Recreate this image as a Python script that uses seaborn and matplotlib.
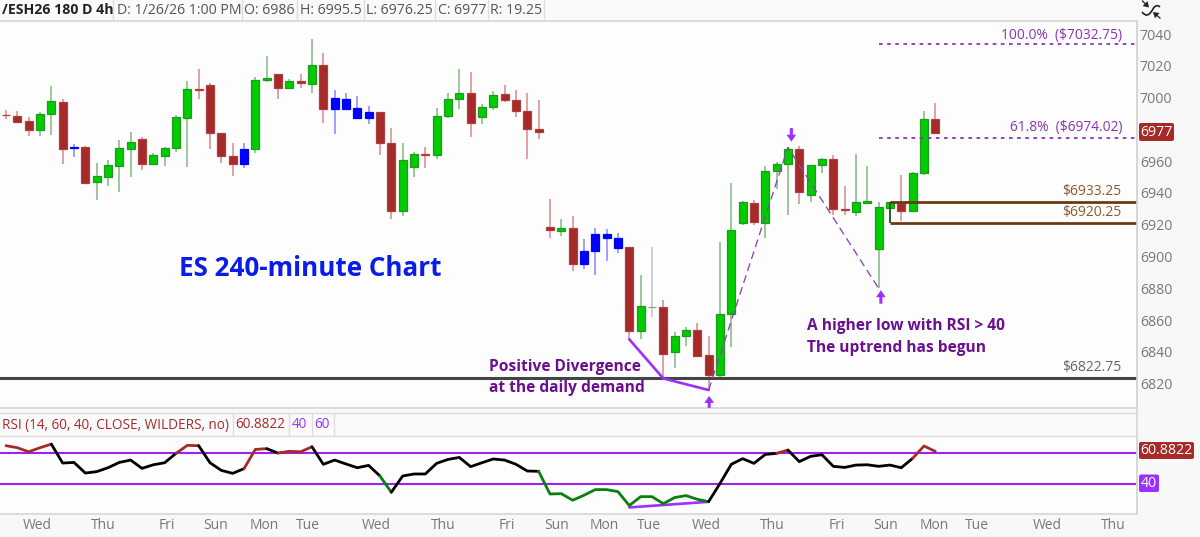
import matplotlib
matplotlib.use("Agg")
import matplotlib.pyplot as plt
from matplotlib.patches import Rectangle, PathPatch, FancyBboxPatch
from matplotlib.path import Path
from matplotlib.transforms import ScaledTranslation
import numpy as np
import pandas as pd
import seaborn as sns

# candles
opens = [6988.5, 6987.8, 6984.3, 6978.8, 6989.1, 6996.6, 6967.9, 6968.1, 6946.1, 6949.4,
         6956.2, 6967.1, 6972.9, 6957.6, 6962.7, 6967.7, 6986.6, 7004.4, 7006.9, 6977.1,
         6962.4, 6957.6, 6966.9, 7010.5, 7013.9, 7005.5, 7009.5, 7008.0, 7019.7, 6992.0,
         6992.2, 6986.2, 6986.2, 6989.9, 6970.6, 6928.0, 6955.7, 6963.9, 6963.1, 6987.9,
         6998.1, 7001.9, 6986.8, 6993.1, 7001.5, 6997.7, 6990.8, 6979.2, 6918.0, 6915.5,
         6917.0, 6894.7, 6902.9, 6910.6, 6904.8, 6905.0, 6852.5, 6867.6, 6867.4, 6839.3,
         6849.2, 6852.9, 6837.2, 6824.8, 6862.8, 6920.1, 6933.1, 6920.5, 6953.2, 6957.4,
         6966.9, 6937.9, 6956.6, 6960.4, 6929.3, 6927.4, 6933.1, 6904.1, 6929.9, 6933.1,
         6928.1, 6951.5, 6986.0]
closes = [6988.0, 6984.1, 6978.8, 6989.1, 6997.1, 6966.9, 6967.7, 6945.7, 6949.7, 6956.6,
          6967.3, 6971.0, 6957.6, 6962.9, 6967.5, 6986.8, 7004.4, 7003.8, 6977.1, 6962.2,
          6957.6, 6966.9, 7010.1, 7011.3, 7005.5, 7009.5, 7008.2, 7019.7, 6992.0, 6999.2,
          6998.3, 6992.4, 6989.9, 6970.4, 6928.0, 6960.0, 6963.9, 6963.1, 6987.9, 6998.1,
          7001.9, 6983.4, 6993.1, 7001.1, 6997.7, 6990.8, 6979.2, 6977.6, 6915.9, 6917.0,
          6894.7, 6902.5, 6913.2, 6913.6, 6910.6, 6852.5, 6867.8, 6867.2, 6837.6, 6849.2,
          6852.9, 6836.8, 6824.8, 6862.8, 6915.7, 6933.3, 6920.9, 6952.8, 6957.4, 6966.7,
          6940.0, 6956.6, 6960.4, 6929.3, 6928.3, 6933.3, 6933.9, 6930.2, 6933.3, 6928.1,
          6951.5, 6985.7, 6977.0]
highs = [6991.4, 6990.8, 6987.2, 6990.1, 7006.5, 6998.3, 6969.8, 6968.7, 6957.8, 6960.0,
         6972.5, 6977.6, 6974.2, 6964.3, 6968.3, 6988.0, 7009.9, 7017.2, 7008.2, 6977.1,
         6970.4, 6970.4, 7012.2, 7025.2, 7013.9, 7010.7, 7014.1, 7035.9, 7027.1, 7004.0,
         7002.3, 7000.0, 6993.9, 6989.9, 6979.9, 6970.4, 6965.2, 6967.9, 6992.5, 7001.9,
         7017.2, 7015.1, 6995.0, 7003.6, 7007.1, 7004.0, 7001.9, 6997.7, 6935.2, 6922.6,
         6924.7, 6910.0, 6916.9, 6916.5, 6913.8, 6905.4, 6887.4, 6905.2, 6871.8, 6851.9,
         6855.0, 6857.6, 6849.4, 6908.5, 6945.3, 6934.3, 6934.8, 6956.2, 6958.7, 6967.9,
         6969.0, 6956.6, 6961.0, 6963.1, 6943.8, 6963.9, 6956.2, 6933.5, 6933.7, 6950.5,
         6952.4, 6991.0, 6995.5]
lows = [6985.9, 6983.0, 6975.2, 6975.0, 6975.9, 6957.6, 6962.0, 6945.7, 6935.0, 6943.8,
        6939.8, 6949.0, 6953.8, 6956.8, 6955.9, 6965.0, 6955.7, 6998.1, 6967.1, 6958.0,
        6949.9, 6955.1, 6964.1, 7009.2, 6998.5, 7004.4, 7005.5, 7002.1, 6983.2, 6976.5,
        6991.8, 6985.5, 6982.8, 6963.3, 6923.0, 6924.7, 6949.4, 6955.1, 6960.8, 6986.6,
        6992.3, 6974.6, 6982.4, 6991.4, 6996.2, 6986.8, 6960.4, 6973.4, 6911.1, 6912.3,
        6890.3, 6891.3, 6887.6, 6896.2, 6901.2, 6847.1, 6847.5, 6861.3, 6822.5, 6829.2,
        6842.9, 6836.8, 6815.2, 6821.5, 6842.5, 6919.2, 6919.2, 6911.1, 6941.5, 6925.3,
        6932.5, 6933.3, 6951.5, 6925.5, 6925.5, 6924.7, 6932.0, 6879.2, 6920.1, 6921.8,
        6927.2, 6950.7, 6976.25]
blue_bars = [6, 21, 29, 30, 31, 32, 51, 52, 53, 54]
gray_bars = [57]

rsi = [64.5, 63.2, 60.6, 63.2, 65.5, 53.4, 53.8, 47.0, 47.9, 50.4,
       53.8, 55.3, 50.0, 52.3, 53.6, 59.6, 64.7, 64.5, 53.6, 48.7,
       46.8, 49.8, 62.1, 62.6, 59.8, 60.9, 60.6, 63.8, 52.6, 55.3,
       52.8, 50.4, 51.9, 45.1, 34.7, 45.1, 46.4, 46.4, 53.2, 55.7,
       57.0, 51.1, 53.6, 56.0, 55.3, 52.6, 48.3, 48.1, 33.6, 33.8,
       29.6, 32.8, 36.4, 36.4, 35.1, 26.2, 31.9, 31.9, 27.4, 31.3,
       32.6, 30.2, 28.7, 40.3, 52.6, 56.2, 53.2, 58.9, 59.6, 61.7,
       54.3, 57.7, 58.7, 51.3, 50.6, 52.1, 52.3, 51.3, 52.1, 50.4,
       56.4, 64.3, 60.88]

price_ticks = [6820, 6840, 6860, 6880, 6900, 6920, 6940, 6960, 7000, 7020, 7040]
day_labels = ["Wed", "Thu", "Fri", "Sun", "Mon", "Tue", "Wed", "Thu", "Fri", "Sun",
              "Mon", "Tue", "Wed", "Thu", "Fri", "Sun", "Mon", "Tue", "Wed", "Thu"]
day_pos = [2.74, 8.56, 14.2, 18.5, 22.8, 26.6, 32.7, 38.6, 44.2, 48.6,
           52.8, 56.7, 61.8, 67.6, 73.3, 77.6, 81.9, 85.7, 91.9, 97.7]

# levels
demand = 6822.75
zone_top = 6933.25
zone_bottom = 6920.25
fib_100 = 7032.75
fib_618 = 6974.02

RED = "#a52a2a"
GREEN = "#00cc00"
BLUE = "#0000ff"
PURPLE = "#a020f0"
LABEL_PURPLE = "#8a35b0"
DARK_PURPLE = "#6a0f8e"
BROWN = "#6b3a10"

sns.set_theme(style="white")
plt.rcParams["font.family"] = ["Open Sans", "DejaVu Sans"]

W, H = 1200, 537
fig = plt.figure(figsize=(W / 100, H / 100), dpi=100, facecolor="#f8f8f8")


def box(left, top, right, bottom):
    return [left / W, 1 - bottom / H, (right - left) / W, (bottom - top) / H]


ax = fig.add_axes(box(0, 20.5, 1137, 408), facecolor="#fdfdfd")
ax_rsi = fig.add_axes(box(0, 436, 1137, 514), facecolor="#fdfdfd")

idx = np.arange(len(opens))
df = pd.DataFrame({"idx": idx, "open": opens, "close": closes, "high": highs, "low": lows})
df["bottom"] = df[["open", "close"]].min(axis=1)
df["height"] = (df["open"] - df["close"]).abs()
df["color"] = np.where(df["close"] >= df["open"], GREEN, RED)
df.loc[blue_bars, "color"] = BLUE
df.loc[gray_bars, "color"] = "#999999"

edge_map = {GREEN: "#1f9a1f", RED: "#b04040", BLUE: "#0000ff", "#999999": "#999999"}
wick_map = {GREEN: "#2e8b2e", RED: "#b84040", BLUE: "#3a3aff", "#999999": "#999999"}

ax.vlines(df["idx"], df["low"], df["high"], colors=df["color"].map(wick_map), lw=1.1, alpha=0.6, zorder=2)
sns.barplot(data=df, x="idx", y="height", bottom=df["bottom"].to_numpy(), width=0.7, errorbar=None,
            color=GREEN, saturation=1, ax=ax, zorder=3, linewidth=0.9, edgecolor="#1f9a1f")
for bar, col in zip(ax.patches, df["color"]):
    bar.set_facecolor(col)
    bar.set_edgecolor(edge_map[col])

# levels
ax.axhline(demand, color="#444444", lw=2.2, zorder=4)
ax.hlines([zone_top, zone_bottom], 78, 100, color=BROWN, lw=2, zorder=4)
ax.vlines(78, zone_bottom, zone_top, color="#14501a", lw=1.2, zorder=4)
ax.hlines([fib_100, fib_618], 77, 100, color=LABEL_PURPLE, lw=1.3, ls=(0, (2, 2.5)), zorder=4)

# fib swing and divergence lines
ax.plot([62, 69, 77], [lows[62], highs[69], lows[77]], color="#8e44ad", lw=0.95, ls=(0, (6, 3.5)), zorder=5)
ax.plot([55, 58, 62], [lows[55], lows[58], lows[62]], color="#9b30ff", lw=1.9, zorder=5)

# arrows
arrow = dict(width=2.2, headwidth=7, headlength=5, color="#9b30ff", shrink=0, lw=0)
ax.annotate("", xy=(62.05, 6811.5), xytext=(62.05, 6804), arrowprops=arrow, zorder=6)
ax.annotate("", xy=(69.3, 6971.5), xytext=(69.3, 6980), arrowprops=arrow, zorder=6)
ax.annotate("", xy=(77.2, 6878), xytext=(77.2, 6869.5), arrowprops=arrow, zorder=6)

ax.set_xlim(-0.53, 99.8)
ax.set_ylim(6803.9, 7047.7)
ax.set_xlabel("")
ax.set_ylabel("")
ax.set_xticks([])
ax.set_yticks(price_ticks)
ax.set_yticklabels([str(t) for t in price_ticks])
ax.yaxis.tick_right()
ax.tick_params(axis="y", length=0, pad=2, labelsize=10.2, labelcolor="#777777")
# axis labels sit a little under their level on the reference
nudge = ScaledTranslation(0, -1.3 / 100, fig.dpi_scale_trans)
for lab in ax.get_yticklabels():
    lab.set_transform(lab.get_transform() + nudge)
for s in ["top", "left"]:
    ax.spines[s].set_visible(False)
for s in ["right", "bottom"]:
    ax.spines[s].set_color("#d6d6d6")
    ax.spines[s].set_linewidth(1.2)

# overlay in pixel coords for text and chrome
ui = fig.add_axes([0, 0, 1, 1], facecolor="none")
ui.set_xlim(0, W)
ui.set_ylim(H, 0)
ui.axis("off")

ui.text(179, 269, "ES 240-minute Chart", color="#0a1ce8", fontsize=18.7, fontweight="bold", va="center")
ui.text(489, 367, "Positive Divergence", color=DARK_PURPLE, fontsize=11.2, fontweight="bold", va="center")
ui.text(489, 388, "at the daily demand", color=DARK_PURPLE, fontsize=11.2, fontweight="bold", va="center")
ui.text(807, 326, "A higher low with RSI > 40", color=DARK_PURPLE, fontsize=11.2, fontweight="bold", va="center")
ui.text(807, 348, "The uptrend has begun", color=DARK_PURPLE, fontsize=11.2, fontweight="bold", va="center")
ui.text(1122, 35, "100.0%  ($7032.75)", color=LABEL_PURPLE, fontsize=9.9, ha="right", va="center")
ui.text(1122, 128, "61.8%  ($6974.02)", color=LABEL_PURPLE, fontsize=9.9, ha="right", va="center")
ui.text(1121, 191.5, "$6933.25", color="#8b5a2b", fontsize=10, ha="right", va="center")
ui.text(1121, 212.5, "$6920.25", color="#8b5a2b", fontsize=10, ha="right", va="center")
ui.text(1121, 367.5, "$6822.75", color="#666666", fontsize=10, ha="right", va="center")

# top info strip
ui.add_patch(Rectangle((0, 0), 1137, 20, color="#fafafa", lw=0))
ui.plot([0, 1137], [20.5, 20.5], color="#d6d6d6", lw=1.2)
ui.plot([1137, 1137], [20.5, 514], color="#d6d6d6", lw=1.2)
for sep in [113, 241.5, 296.5, 363.7, 435, 487.7, 544]:
    ui.plot([sep, sep], [0, 20], color="#dddddd", lw=1)
ui.text(2, 10.5, "/ESH26 180 D 4h", color="#222222", fontsize=10.2, fontweight="bold", va="center")
info = [("D: 1/26/26 1:00 PM", 117), ("O: 6986", 244.5), ("H: 6995.5", 299.5),
        ("L: 6976.25", 366), ("C: 6977", 437.5), ("R: 19.25", 490.5)]
for label, x in info:
    ui.text(x, 10.5, label, color="#555555", fontsize=10.2, va="center")

# icon in the corner
ui.add_patch(PathPatch(Path([(1142, 12), (1147, 18), (1150, 14), (1153, 9), (1155, 5), (1158, 5), (1160, 7)],
                            [Path.MOVETO, Path.CURVE4, Path.CURVE4, Path.CURVE4, Path.CURVE4, Path.CURVE4, Path.CURVE4]),
                       fc="none", ec="#222222", lw=1.2))
ui.annotate("", xy=(1149, 7.5), xytext=(1142, 0.5),
            arrowprops=dict(width=0.9, headwidth=5, headlength=4, color="#222222", shrink=0, lw=0))
ui.annotate("", xy=(1153, 12), xytext=(1160.5, 18.5),
            arrowprops=dict(width=0.9, headwidth=5, headlength=4, color="#222222", shrink=0, lw=0))


def tag(x, y, w, h, color, text):
    ui.add_patch(FancyBboxPatch((x + 2, y + 2), w - 4, h - 4, boxstyle="round,pad=2", fc=color, ec="none"))
    ui.text(x + w / 2, y + h / 2 + 0.5, text, color="white", fontsize=10.2, ha="center", va="center")


tag(1139, 123, 35, 18, RED, "6977")

# RSI pane
ui.add_patch(Rectangle((0, 413), 1137, 23, color="#fafafa", lw=0))
ui.plot([0, 1137], [413, 413], color="#dddddd", lw=1)
ui.plot([0, 1137], [435.7, 435.7], color="#dddddd", lw=1)
for sep in [232.7, 289, 312, 333.7]:
    ui.plot([sep, sep], [413, 435.7], color="#dddddd", lw=1)
ui.text(1.5, 425, "RSI (14, 60, 40, CLOSE, WILDERS, no)", color=RED, fontsize=9.75, va="center")
ui.text(235, 425, "60.8822", color=RED, fontsize=9.75, va="center")
ui.text(292, 425, "40", color="#9b30ff", fontsize=9.75, va="center")
ui.text(314, 425, "60", color="#9b30ff", fontsize=9.75, va="center")

ax_rsi.axhline(60, color=PURPLE, lw=1.5, zorder=1)
ax_rsi.axhline(40, color=PURPLE, lw=1.5, zorder=1)
ax_rsi.plot([55, 62], [25.0, 28.6], color="#9b30ff", lw=1.9, zorder=2)

rsi_arr = np.array(rsi)
state = np.where(rsi_arr >= 60, "#a52a2a", np.where(rsi_arr < 40, "#0a800a", "#000000"))
start = 0
for i in range(1, len(rsi_arr) + 1):
    if i == len(rsi_arr) or state[i] != state[start + 1 if start + 1 < len(state) else start]:
        seg_x = idx[start:i]
        seg_y = rsi_arr[start:i]
        sns.lineplot(x=seg_x, y=seg_y, color=state[i - 1], lw=2, estimator=None, sort=False,
                     ax=ax_rsi, zorder=3, solid_capstyle="round")
        start = i - 1

ax_rsi.set_xlim(-0.53, 99.8)
ax_rsi.set_ylim(20.8, 70.7)
ax_rsi.set_yticks([])
ax_rsi.set_xticks(day_pos)
ax_rsi.set_xticklabels(day_labels)
ax_rsi.tick_params(axis="x", length=0, pad=3, labelsize=10, labelcolor="#777777")
ax_rsi.set_xlabel("")
ax_rsi.set_ylabel("")
for s in ["top", "left"]:
    ax_rsi.spines[s].set_visible(False)
for s in ["right", "bottom"]:
    ax_rsi.spines[s].set_color("#d6d6d6")
    ax_rsi.spines[s].set_linewidth(1.2)

tag(1139, 442, 55, 17, RED, "60.8822")
tag(1139, 474.5, 20, 17.5, "#9b30ff", "40")

fig.savefig("out.png", dpi=100, facecolor=fig.get_facecolor())
